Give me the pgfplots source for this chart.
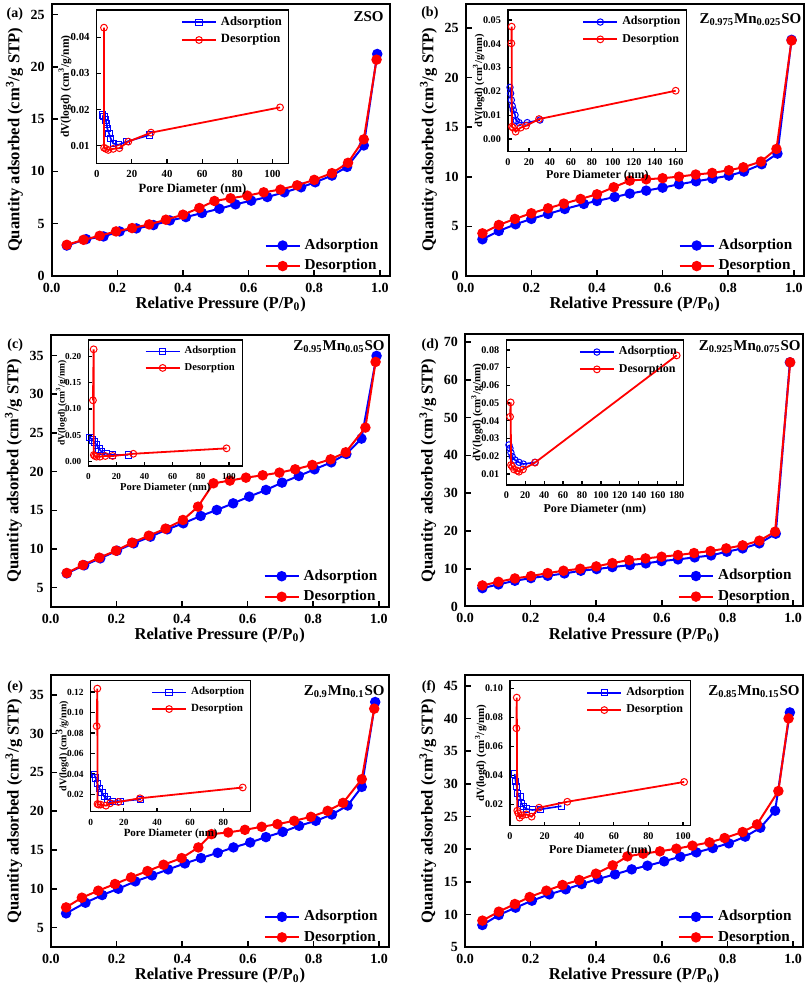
\documentclass[border=0pt]{standalone}
\usepackage{fontspec}
\setmainfont{Liberation Serif}
\usepackage{pgfplots}
\pgfplotsset{compat=1.18}
\definecolor{myblue}{RGB}{0,0,255}
\definecolor{myred}{RGB}{255,0,0}
\pgfplotsset{
  mainax/.style={
    scale only axis, width=169pt, height=136pt,
    xmin=0, xmax=1.03,
    xtick={0,0.2,0.4,0.6,0.8,1.0},
    tick align=inside, xtick pos=bottom, ytick pos=left,
    major tick length=3pt,
    axis line style={line width=1pt},
    every tick/.style={black, line width=0.8pt},
    scaled x ticks=false, scaled y ticks=false,
    /pgf/number format/assume math mode=true,
    ticklabel style={font=\bfseries\fontsize{7}{8}\selectfont},
    xticklabel style={/pgf/number format/fixed, /pgf/number format/fixed zerofill, /pgf/number format/precision=1},
    yticklabel style={/pgf/number format/fixed, /pgf/number format/precision=0},
    xlabel={Relative Pressure (P/P\textsubscript{0})},
    ylabel={Quantity adsorbed (cm\textsuperscript{3}/g STP)},
    label style={font=\bfseries\fontsize{8.3}{9}\selectfont},
    xlabel style={at={(axis description cs:0.5,-0.105)}, anchor=center},
    ylabel style={at={(axis description cs:-0.11,0.5)}, anchor=center},
    legend style={at={(axis description cs:0.985,-0.012)}, anchor=south east, draw=none, fill=none,
      font=\bfseries\fontsize{7.6}{9}\selectfont, inner sep=1pt, row sep=-0.5pt},
    legend cell align=left,
    clip mode=individual,
  },
  ads/.style={color=myblue, line width=1pt, mark=*, mark size=2.1pt, mark options={fill=myblue, solid}},
  des/.style={color=myred, line width=1pt, mark=*, mark size=2.1pt, mark options={fill=myred, solid}},
  inax/.style={
    scale only axis, axis background/.style={fill=white},
    tick align=inside, xtick pos=bottom, ytick pos=left,
    major tick length=2pt,
    axis line style={line width=0.7pt},
    every tick/.style={black, line width=0.6pt},
    scaled x ticks=false, scaled y ticks=false,
    /pgf/number format/assume math mode=true,
    xlabel={Pore Diameter (nm)},
    ylabel={dV(logd) (cm\textsuperscript{3}/g/nm)},
    xlabel style={at={(axis description cs:0.5,-0.13)}, anchor=north, inner sep=0pt},
    yticklabel style={/pgf/number format/fixed, /pgf/number format/fixed zerofill, /pgf/number format/precision=2},
    xticklabel style={/pgf/number format/fixed, /pgf/number format/precision=0},
    legend style={at={(axis description cs:1,1)}, anchor=north east, draw=none, fill=none, inner sep=1pt, row sep=-1pt},
    legend cell align=left,
    clip mode=individual,
  },
  insz/.style n args={4}{
    ticklabel style={font=\bfseries\fontsize{#1}{#1}\selectfont},
    xlabel style={font=\bfseries\fontsize{#2}{#2}\selectfont},
    ylabel style={font=\bfseries\fontsize{#3}{#3}\selectfont, at={(axis description cs:#4,0.5)}, anchor=south, inner sep=0pt},
    legend style={font=\bfseries\fontsize{#2}{#2}\selectfont},
  },
  iads/.style={color=myblue, line width=0.8pt, mark=#1, mark size=1.6pt, mark options={fill=white, solid, line width=0.5pt}},
  ides/.style={color=myred, line width=0.9pt, mark=o, mark size=1.7pt, mark options={fill=white, solid, line width=0.5pt}},
}
\begin{document}
\begin{tikzpicture}
\useasboundingbox (0,0) rectangle (404pt,496pt);
% ================= (a)
\begin{axis}[mainax, at={(25.85pt,358pt)}, anchor=south west, ymin=0, ymax=26, ytick={0,5,10,15,20,25}]
\addplot[ads] coordinates {(0.046,2.91)(0.105,3.52)(0.158,3.78)(0.207,4.26)(0.258,4.55)(0.31,4.87)(0.36,5.31)(0.409,5.63)(0.458,6.02)(0.511,6.43)(0.56,6.85)(0.608,7.2)(0.657,7.55)(0.709,8.0)(0.76,8.48)(0.803,8.96)(0.854,9.6)(0.9,10.43)(0.951,12.48)(0.992,21.22)};
\addplot[des] coordinates {(0.046,2.98)(0.097,3.46)(0.146,3.84)(0.196,4.26)(0.245,4.58)(0.297,4.93)(0.348,5.38)(0.40,5.86)(0.45,6.5)(0.496,7.17)(0.545,7.43)(0.596,7.68)(0.646,8.0)(0.697,8.26)(0.748,8.67)(0.8,9.19)(0.854,9.83)(0.903,10.82)(0.951,13.06)(0.99,20.68)};
\legend{Adsorption,Desorption}
\node[font=\bfseries\fontsize{7}{8}\selectfont] at (axis description cs:-0.109,0.962) {(a)};
\node[anchor=north east, inner sep=0pt, font=\bfseries\fontsize{7.5}{9}\selectfont] at (axis description cs:0.983,0.974) {ZSO};
\end{axis}
\begin{axis}[inax, insz={5.4}{6.3}{5.8}{-0.13}, at={(48.35pt,414.35pt)}, anchor=south west, width=95.8pt, height=76.65pt,
  xmin=0, xmax=109, ymin=0.0051, ymax=0.0476, ytick={0.01,0.02,0.03,0.04}, xtick={0,20,40,60,80,100}]
\addplot[iads=square] coordinates {(3.4,0.0185)(4.15,0.0180)(5.1,0.0171)(5.7,0.016)(6.0,0.0148)(7.0,0.0134)(7.96,0.012)(9.4,0.0106)(12.3,0.0102)(17,0.0111)(29.9,0.0129)};
\addplot[ides] coordinates {(4.15,0.0427)(4.2,0.0094)(5.3,0.0091)(6.6,0.0088)(9.4,0.0091)(12.9,0.0093)(18,0.0111)(30.9,0.0136)(104.3,0.0206)};
\legend{Adsorption,Desorption}
\end{axis}
% ================= (b)
\begin{axis}[mainax, at={(232.85pt,358pt)}, anchor=south west, ymin=0, ymax=27.4, ytick={0,5,10,15,20,25}]
\addplot[ads] coordinates {(0.051,3.70)(0.101,4.54)(0.152,5.21)(0.2,5.75)(0.251,6.25)(0.302,6.75)(0.36,7.26)(0.40,7.56)(0.454,7.96)(0.5,8.3)(0.55,8.6)(0.6,8.9)(0.65,9.24)(0.702,9.54)(0.752,9.81)(0.802,10.11)(0.848,10.52)(0.902,11.26)(0.95,12.33)(0.993,23.79)};
\addplot[des] coordinates {(0.051,4.3)(0.101,5.14)(0.15,5.75)(0.2,6.32)(0.251,6.82)(0.299,7.29)(0.35,7.76)(0.4,8.23)(0.451,8.94)(0.5,9.61)(0.55,9.74)(0.6,9.85)(0.65,10.01)(0.701,10.22)(0.751,10.38)(0.802,10.65)(0.846,10.95)(0.9,11.53)(0.947,12.8)(0.993,23.72)};
\legend{Adsorption,Desorption}
\node[font=\bfseries\fontsize{7}{8}\selectfont] at (axis description cs:-0.106,0.966) {(b)};
\node[anchor=north east, inner sep=0pt, font=\bfseries\fontsize{7.5}{9}\selectfont] at (axis description cs:0.994,0.967) {Z\textsubscript{0.975}Mn\textsubscript{0.025}SO};
\end{axis}
\begin{axis}[inax, insz={5.1}{6}{5.3}{-0.13}, at={(254pt,420.15pt)}, anchor=south west, width=89.35pt, height=70.85pt,
  xmin=0, xmax=170.5, ymin=-0.0053, ymax=0.0542, ytick={0,0.01,0.02,0.03,0.04,0.05}, xtick={0,20,...,160}]
\addplot[iads=o] coordinates {(1.9,0.0217)(2.5,0.0192)(3.2,0.0164)(4.1,0.0139)(5.1,0.0122)(6.7,0.0101)(7.9,0.0077)(10.5,0.0069)(18.4,0.0069)(30.5,0.008)};
\addplot[ides] coordinates {(3.2,0.0402)(3.5,0.0472)(3.7,0.0052)(4.8,0.0048)(7.3,0.0031)(12.1,0.0048)(17.2,0.0056)(29.6,0.0084)(160,0.0203)};
\legend{Adsorption,Desorption}
\end{axis}
% ================= (c)
\begin{axis}[mainax, at={(25.35pt,192.65pt)}, anchor=south west, ymin=2.54, ymax=37.7, ytick={5,10,15,20,25,30,35}]
\addplot[ads] coordinates {(0.049,6.85)(0.102,7.89)(0.151,8.79)(0.202,9.78)(0.253,10.73)(0.304,11.59)(0.355,12.54)(0.404,13.32)(0.457,14.27)(0.506,15.04)(0.556,15.9)(0.605,16.77)(0.656,17.63)(0.705,18.58)(0.756,19.44)(0.804,20.3)(0.855,21.2)(0.901,22.28)(0.947,24.27)(0.993,34.96)};
\addplot[des] coordinates {(0.049,6.9)(0.098,7.93)(0.148,8.88)(0.199,9.78)(0.248,10.82)(0.299,11.72)(0.35,12.63)(0.403,13.75)(0.449,15.47)(0.496,18.49)(0.546,18.84)(0.595,19.22)(0.646,19.53)(0.697,19.87)(0.745,20.3)(0.797,20.86)(0.853,21.59)(0.899,22.5)(0.959,25.69)(0.99,34.18)};
\legend{Adsorption,Desorption}
\node[font=\bfseries\fontsize{7}{8}\selectfont] at (axis description cs:-0.105,0.962) {(c)};
\node[anchor=north east, inner sep=0pt, font=\bfseries\fontsize{7.5}{9}\selectfont] at (axis description cs:0.989,0.98) {Z\textsubscript{0.95}Mn\textsubscript{0.05}SO};
\end{axis}
\begin{axis}[inax, insz={4.6}{5.3}{4.8}{-0.138}, at={(44.15pt,263pt)}, anchor=south west, width=77pt, height=63pt,
  xmin=0, xmax=109.5, ymin=-0.0082, ymax=0.231, ytick={0,0.05,0.10,0.15,0.20}, xtick={0,20,...,100}]
\addplot[iads=square] coordinates {(1.2,0.046)(2.8,0.041)(4.3,0.037)(5.9,0.032)(7.6,0.024)(9.5,0.019)(12.6,0.015)(17.3,0.0127)(28.4,0.013)};
\addplot[ides] coordinates {(3.3,0.1165)(3.8,0.2133)(3.9,0.0127)(4.7,0.0108)(5.9,0.0095)(8.3,0.0095)(12.1,0.0108)(17.3,0.0108)(32,0.015)(98.3,0.0253)};
\legend{Adsorption,Desorption}
\end{axis}
% ================= (d)
\begin{axis}[mainax, at={(232.5pt,192.75pt)}, anchor=south west, ymin=0, ymax=72, ytick={0,10,...,70}]
\addplot[ads] coordinates {(0.053,4.86)(0.102,5.84)(0.152,6.81)(0.201,7.52)(0.252,8.13)(0.303,8.75)(0.353,9.46)(0.401,9.9)(0.449,10.43)(0.503,10.96)(0.551,11.41)(0.599,12.02)(0.649,12.47)(0.7,13.0)(0.75,13.53)(0.798,14.5)(0.846,15.38)(0.897,16.71)(0.947,19.27)(0.99,64.63)};
\addplot[des] coordinates {(0.053,5.57)(0.102,6.54)(0.152,7.43)(0.201,8.05)(0.252,8.84)(0.3,9.46)(0.351,9.99)(0.4,10.61)(0.449,11.49)(0.5,12.29)(0.55,12.73)(0.599,13.17)(0.649,13.62)(0.698,14.15)(0.748,14.68)(0.796,15.38)(0.846,16.18)(0.897,17.42)(0.945,19.8)(0.991,64.63)};
\legend{Adsorption,Desorption}
\node[font=\bfseries\fontsize{7}{8}\selectfont] at (axis description cs:-0.103,0.962) {(d)};
\node[anchor=north east, inner sep=0pt, font=\bfseries\fontsize{7.5}{9}\selectfont] at (axis description cs:0.994,0.98) {Z\textsubscript{0.925}Mn\textsubscript{0.075}SO};
\end{axis}
\begin{axis}[inax, insz={5.1}{6}{5.5}{-0.131}, at={(253.15pt,253.5pt)}, anchor=south west, width=88.5pt, height=72.5pt,
  xmin=0, xmax=187, ymin=0.0038, ymax=0.0856, ytick={0.01,0.02,0.03,0.04,0.05,0.06,0.07,0.08}, xtick={0,20,...,180}]
\addplot[iads=o] coordinates {(2.8,0.0264)(3.9,0.0245)(4.9,0.022)(6.3,0.0198)(9.2,0.0179)(13.4,0.0166)(18,0.0156)(30.3,0.0166)};
\addplot[ides] coordinates {(4.0,0.0423)(4.6,0.0504)(5.0,0.0151)(6.3,0.0141)(8.1,0.0126)(11.6,0.0119)(13.4,0.0113)(17.6,0.0126)(30.3,0.0164)(180,0.0769)};
\legend{Adsorption,Desorption}
\end{axis}
% ================= (e)
\begin{axis}[mainax, at={(25.5pt,22.35pt)}, anchor=south west, ymin=2.47, ymax=37.5, ytick={5,10,15,20,25,30,35}]
\addplot[ads] coordinates {(0.046,6.84)(0.105,8.21)(0.156,9.2)(0.205,10.01)(0.257,10.96)(0.308,11.73)(0.357,12.5)(0.408,13.27)(0.457,13.96)(0.508,14.64)(0.556,15.33)(0.607,15.97)(0.655,16.66)(0.706,17.34)(0.756,18.12)(0.807,18.76)(0.856,19.57)(0.904,20.73)(0.947,23.13)(0.988,34.06)};
\addplot[des] coordinates {(0.046,7.61)(0.094,8.86)(0.144,9.76)(0.195,10.62)(0.244,11.47)(0.294,12.29)(0.343,13.1)(0.398,13.96)(0.449,15.33)(0.489,17.04)(0.54,17.26)(0.591,17.6)(0.642,17.99)(0.69,18.33)(0.741,18.76)(0.792,19.27)(0.843,20.04)(0.89,21.07)(0.947,24.12)(0.985,33.2)};
\legend{Adsorption,Desorption}
\node[font=\bfseries\fontsize{7}{8}\selectfont] at (axis description cs:-0.106,0.957) {(e)};
\node[anchor=north east, inner sep=0pt, font=\bfseries\fontsize{7.5}{9}\selectfont] at (axis description cs:0.988,0.963) {Z\textsubscript{0.9}Mn\textsubscript{0.1}SO};
\end{axis}
\begin{axis}[inax, insz={4.7}{5.5}{5}{-0.135}, at={(45.35pt,90.15pt)}, anchor=south west, width=80pt, height=65.5pt,
  xmin=0, xmax=96.5, ymin=0.0033, ymax=0.131, ytick={0.02,0.04,0.06,0.08,0.10,0.12}, xtick={0,20,...,80}]
\addplot[iads=square] coordinates {(2.2,0.0393)(3.0,0.036)(4.0,0.0305)(5.2,0.0262)(6.8,0.022)(8.2,0.018)(10,0.0154)(13.3,0.0135)(18.1,0.0135)(30.2,0.0154)};
\addplot[ides] coordinates {(3.6,0.0867)(4.0,0.1233)(4.1,0.0108)(4.8,0.0102)(6.0,0.0102)(9.2,0.0092)(11.7,0.0115)(16.7,0.0128)(29.7,0.0164)(91.7,0.0269)};
\legend{Adsorption,Desorption}
\end{axis}
% ================= (f)
\begin{axis}[mainax, at={(232.5pt,22.35pt)}, anchor=south west, ymin=5, ymax=46.6, ytick={5,10,...,45}]
\addplot[ads] coordinates {(0.053,8.41)(0.103,9.94)(0.154,11.06)(0.204,12.13)(0.257,13.1)(0.307,13.87)(0.356,14.68)(0.406,15.45)(0.457,16.16)(0.508,16.92)(0.556,17.48)(0.607,18.15)(0.656,18.86)(0.705,19.52)(0.755,20.18)(0.804,20.9)(0.854,21.92)(0.9,23.29)(0.945,25.89)(0.99,40.92)};
\addplot[des] coordinates {(0.053,9.08)(0.103,10.45)(0.152,11.62)(0.197,12.69)(0.248,13.66)(0.297,14.53)(0.348,15.29)(0.399,16.26)(0.45,17.53)(0.495,18.91)(0.543,19.32)(0.594,19.68)(0.644,20.08)(0.693,20.54)(0.745,21.05)(0.791,21.71)(0.846,22.63)(0.89,23.8)(0.955,28.9)(0.986,40.0)};
\legend{Adsorption,Desorption}
\node[font=\bfseries\fontsize{7}{8}\selectfont] at (axis description cs:-0.107,0.957) {(f)};
\node[anchor=north east, inner sep=0pt, font=\bfseries\fontsize{7.5}{9}\selectfont] at (axis description cs:0.991,0.963) {Z\textsubscript{0.85}Mn\textsubscript{0.15}SO};
\end{axis}
\begin{axis}[inax, insz={5.1}{6}{5.5}{-0.128}, at={(255pt,83.15pt)}, anchor=south west, width=90.35pt, height=72.5pt,
  xmin=0, xmax=104.4, ymin=0.00525, ymax=0.1055, ytick={0.02,0.04,0.06,0.08,0.10}, xtick={0,20,...,100}]
\addplot[iads=square] coordinates {(2.7,0.041)(3.3,0.0357)(3.9,0.0322)(4.4,0.0276)(5.8,0.0253)(6.6,0.0207)(7.7,0.0184)(9.6,0.0168)(12.9,0.0161)(17.7,0.0166)(29.7,0.0188)};
\addplot[ides] coordinates {(3.7,0.0726)(3.9,0.0938)(4.2,0.0156)(4.8,0.0138)(5.6,0.0108)(7.1,0.0124)(9.4,0.0131)(12.5,0.0115)(16.8,0.0177)(33.1,0.0218)(100.6,0.0355)};
\legend{Adsorption,Desorption}
\end{axis}
\end{tikzpicture}
\end{document}
